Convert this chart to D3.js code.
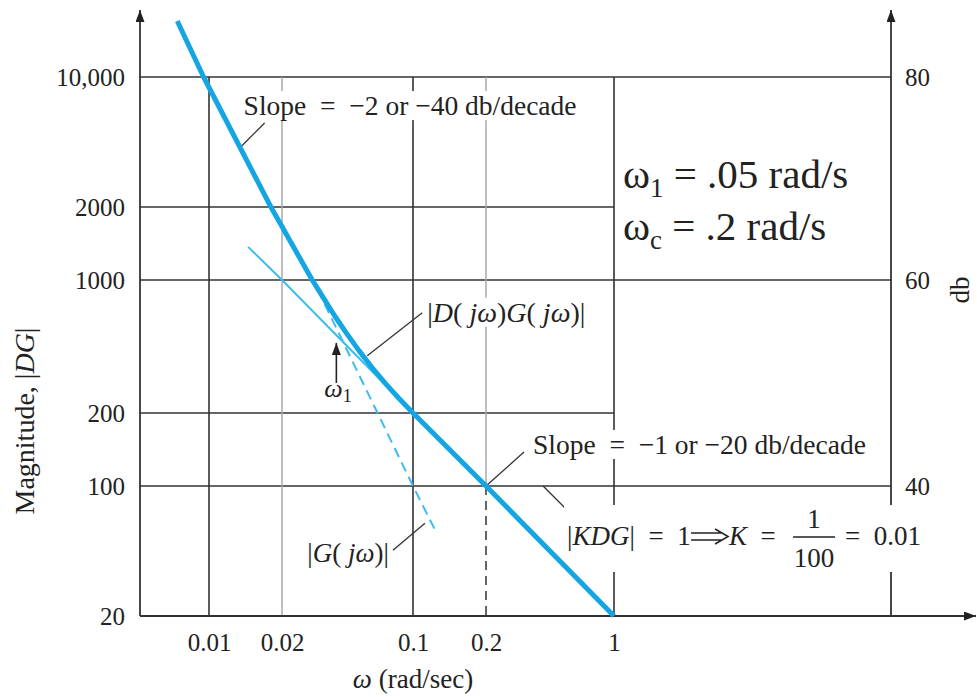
<!DOCTYPE html>
<html>
<head>
<meta charset="utf-8">
<script src="https://cdn.jsdelivr.net/npm/d3@7"></script>
<style>
  body { margin: 0; background: #fff; }
  svg text { font-family: "Liberation Serif", "Times New Roman", serif; fill: #222; }
</style>
</head>
<body>
<div id="chart"></div>
<script>
// grid values
const omegaTicks = [0.01, 0.02, 0.1, 0.2, 1];
const omegaLabels = ["0.01", "0.02", "0.1", "0.2", "1"];
const magTicks = [20, 100, 200, 1000, 2000, 10000];
const magLabels = ["20", "100", "200", "1000", "2000", "10,000"];
const dbTicks = [100, 1000, 10000];
const dbLabels = ["40", "60", "80"];
const majorOmega = [0.01, 0.1, 1];
const minorOmega = [0.02, 0.2];

// |D(jw)G(jw)|
const dgOmega = [0.0074, 0.0095, 0.018, 0.029, 0.0334, 0.0384, 0.0445, 0.0516, 0.0603, 0.071, 0.084, 0.1, 0.2, 1];
const dgMag = [20000, 10000, 2000, 1000, 800, 643, 520, 424, 348, 287, 239, 200, 100, 20];
// |G(jw)| (dashed)
const gOmega = [0.031, 0.1, 0.125];
const gMag = [890, 100, 56];
// slope -1 asymptote (thin)
const asymOmega = [0.0145, 0.02, 0.08];
const asymMag = [1370, 1000, 250];

const W = 977, H = 697;
const leftX = 140, rightX = 891, axisTop = 10, axisEnd = 976;

const svg = d3.select("#chart").append("svg")
    .attr("width", W)
    .attr("height", H);

// the printed grid is not quite logarithmic, so map each gridline
const x = d3.scaleLog().domain(omegaTicks).range([209, 282, 413, 486, 614]);
const y = d3.scaleLog().domain(magTicks).range([616, 486, 413, 280, 207, 77]);

const defs = svg.append("defs");
defs.append("marker")
    .attr("id", "arrowhead")
    .attr("viewBox", "0 0 12 9")
    .attr("refX", 12).attr("refY", 4.5)
    .attr("markerWidth", 12).attr("markerHeight", 9)
    .attr("markerUnits", "userSpaceOnUse")
    .attr("orient", "auto")
    .append("path")
    .attr("d", "M0,0L12,4.5L0,9Z")
    .attr("fill", "#222");

// gridlines
const grid = svg.append("g");
grid.selectAll("line.h")
    .data(magTicks.filter(d => d > magTicks[0]))
    .join("line")
    .attr("x1", leftX)
    .attr("x2", d => dbTicks.includes(d) ? rightX : x(1))
    .attr("y1", d => y(d))
    .attr("y2", d => y(d))
    .attr("stroke", "#333")
    .attr("stroke-width", 1.6);

grid.selectAll("line.major")
    .data(majorOmega)
    .join("line")
    .attr("x1", d => x(d)).attr("x2", d => x(d))
    .attr("y1", y(10000)).attr("y2", y(20))
    .attr("stroke", "#333")
    .attr("stroke-width", 1.6);

grid.selectAll("line.minor")
    .data(minorOmega)
    .join("line")
    .attr("x1", d => x(d)).attr("x2", d => x(d))
    .attr("y1", y(10000))
    .attr("y2", d => d === 0.2 ? y(100) : y(20))
    .attr("stroke", "#aaa")
    .attr("stroke-width", 1.5);

// dashed crossover marker at 0.2
grid.append("line")
    .attr("x1", x(0.2)).attr("x2", x(0.2))
    .attr("y1", y(100)).attr("y2", y(20))
    .attr("stroke", "#333")
    .attr("stroke-width", 1.5)
    .attr("stroke-dasharray", "9,6");

// axis lines with arrows
const axes = svg.append("g").attr("stroke", "#333").attr("stroke-width", 1.8);
axes.append("line").attr("x1", leftX).attr("x2", leftX).attr("y1", y(20)).attr("y2", axisTop).attr("marker-end", "url(#arrowhead)");
axes.append("line").attr("x1", rightX).attr("x2", rightX).attr("y1", y(20)).attr("y2", axisTop).attr("marker-end", "url(#arrowhead)");
axes.append("line").attr("x1", leftX).attr("x2", axisEnd).attr("y1", y(20)).attr("y2", y(20)).attr("marker-end", "url(#arrowhead)");

function styleAxis(g) {
    g.select(".domain").remove();
    g.attr("font-size", 25)
        .attr("font-family", "'Liberation Serif', 'Times New Roman', serif")
        .attr("color", "#222");
}

svg.append("g")
    .attr("transform", `translate(${leftX},0)`)
    .call(d3.axisLeft(y).tickValues(magTicks).tickFormat((d, i) => magLabels[i]).tickSize(0).tickPadding(15))
    .call(styleAxis);

svg.append("g")
    .attr("transform", `translate(${rightX},0)`)
    .call(d3.axisRight(y).tickValues(dbTicks).tickFormat((d, i) => dbLabels[i]).tickSize(0).tickPadding(14))
    .call(styleAxis);

svg.append("g")
    .attr("transform", `translate(0,${y(20)})`)
    .call(d3.axisBottom(x).tickValues(omegaTicks).tickFormat((d, i) => omegaLabels[i]).tickSize(0).tickPadding(17))
    .call(styleAxis);

// axis titles
const yTitle = svg.append("text")
    .attr("transform", "translate(34,421)rotate(-90)")
    .attr("text-anchor", "middle")
    .attr("font-size", 28);
yTitle.append("tspan").text("Magnitude, |");
yTitle.append("tspan").attr("font-style", "italic").text("DG");
yTitle.append("tspan").text("|");

svg.append("text")
    .attr("transform", "translate(969,290)rotate(-90)")
    .attr("text-anchor", "middle")
    .attr("font-size", 27)
    .text("db");

const xTitle = svg.append("text")
    .attr("x", 413).attr("y", 688)
    .attr("text-anchor", "middle")
    .attr("font-size", 27);
xTitle.append("tspan").attr("font-style", "italic").text("ω");
xTitle.append("tspan").text(" (rad/sec)");

// annotations
const annot = svg.append("g");

function boxed(build) {
    const g = annot.append("g");
    build(g);
    const b = g.node().getBBox();
    g.insert("rect", ":first-child")
        .attr("x", b.x - 3).attr("y", b.y + 1)
        .attr("width", b.width + 6).attr("height", b.height - 2)
        .attr("fill", "#fff");
    return g;
}

function richText(g, px, py, parts, anchor, size) {
    const t = g.append("text")
        .attr("x", px).attr("y", py)
        .attr("font-size", size || 26)
        .attr("text-anchor", anchor || "start")
        .attr("xml:space", "preserve");
    parts.forEach(p => t.append("tspan").attr("font-style", p[1] ? "italic" : null).text(p[0]));
    return t;
}

function leader(tip, dx, dy) {
    annot.append("line")
        .attr("x1", x(tip[0])).attr("y1", y(tip[1]))
        .attr("x2", x(tip[0]) + dx).attr("y2", y(tip[1]) + dy)
        .attr("stroke", "#333")
        .attr("stroke-width", 1.3);
}

// slope -2 note
const tip1 = [0.0135, 4200];
leader(tip1, 24, -24);
boxed(g => richText(g, x(tip1[0]) + 3, y(tip1[1]) - 32, [["Slope  =  −2 or −40 db/decade"]], "start", 27.5));

// |D(jw)G(jw)| note
const tip2 = [0.057, 400];
leader(tip2, 55, -43);
boxed(g => richText(g, x(tip2[0]) + 60, y(tip2[1]) - 34,
    [["|"], ["D", true], ["("], [" jω", true], [")"], ["G", true], ["("], [" jω", true], [")|"]], "start", 28));

// w1 arrow
const tip3 = [0.039, 467];
annot.append("line")
    .attr("x1", x(tip3[0])).attr("x2", x(tip3[0]))
    .attr("y1", y(tip3[1]) + 40).attr("y2", y(tip3[1]))
    .attr("stroke", "#222")
    .attr("stroke-width", 1.6)
    .attr("marker-end", "url(#arrowhead)");
const w1 = annot.append("text")
    .attr("x", x(tip3[0]) - 12).attr("y", y(tip3[1]) + 54)
    .attr("font-size", 26);
w1.append("tspan").attr("font-style", "italic").text("ω");
w1.append("tspan").attr("font-size", 18).attr("dy", 5).text("1");

// |G(jw)| note
const tip4 = [0.112, 63];
leader(tip4, -32, 27);
boxed(g => richText(g, x(tip4[0]) - 36, y(tip4[1]) + 39,
    [["|"], ["G", true], ["("], [" jω", true], [")|"]], "end", 27));

// slope -1 note
const tip5 = [0.2, 100];
leader(tip5, 38, -34);
boxed(g => richText(g, x(tip5[0]) + 47, y(tip5[1]) - 32, [["Slope  =  −1 or −20 db/decade"]], "start", 27.5));

// |KDG| = 1 note
const tip6 = [0.41, 100];
leader(tip6, 27, 27);
boxed(g => {
    const x0 = x(tip6[0]) + 24, yb = y(tip6[1]) + 59;
    richText(g, x0, yb, [["|"], ["KDG", true], ["|  =  1"]], "start", 27);
    g.append("path")
        .attr("d", `M${x0 + 124},${yb - 12}H${x0 + 154}M${x0 + 124},${yb - 5}H${x0 + 154}M${x0 + 148},${yb - 16}L${x0 + 161},${yb - 8.5}L${x0 + 148},${yb - 1}`)
        .attr("fill", "none")
        .attr("stroke", "#222")
        .attr("stroke-width", 1.5);
    richText(g, x0 + 162, yb, [["K", true], ["  ="]], "start", 27);
    g.append("line")
        .attr("x1", x0 + 226).attr("x2", x0 + 268)
        .attr("y1", yb - 8).attr("y2", yb - 8)
        .attr("stroke", "#222").attr("stroke-width", 1.5);
    richText(g, x0 + 247, yb - 17, [["1"]], "middle", 27);
    richText(g, x0 + 247, yb + 22, [["100"]], "middle", 27);
    richText(g, x0 + 278, yb, [["=  0.01"]], "start", 27);
});

// curves
const line = d3.line().x(d => x(d[0])).y(d => y(d[1]));

svg.append("path")
    .attr("d", line(d3.zip(asymOmega, asymMag)))
    .attr("fill", "none")
    .attr("stroke", "#3dbbee")
    .attr("stroke-width", 2);

svg.append("path")
    .attr("d", line(d3.zip(gOmega, gMag)))
    .attr("fill", "none")
    .attr("stroke", "#3dbbee")
    .attr("stroke-width", 2)
    .attr("stroke-dasharray", "10,6");

svg.append("path")
    .attr("d", line(d3.zip(dgOmega, dgMag)))
    .attr("fill", "none")
    .attr("stroke", "#13a6e2")
    .attr("stroke-width", 5)
    .attr("stroke-linejoin", "round");

// design values
const note = svg.append("g").attr("font-size", 41);
[["1", " = .05 rad/s", 188], ["c", " = .2 rad/s", 240]].forEach(r => {
    const t = note.append("text").attr("x", 623).attr("y", r[2]).attr("xml:space", "preserve");
    t.append("tspan").text("ω");
    t.append("tspan").attr("font-size", 27).attr("dy", 9).text(r[0]);
    t.append("tspan").attr("dy", -9).text(r[1]);
});
</script>
</body>
</html>
